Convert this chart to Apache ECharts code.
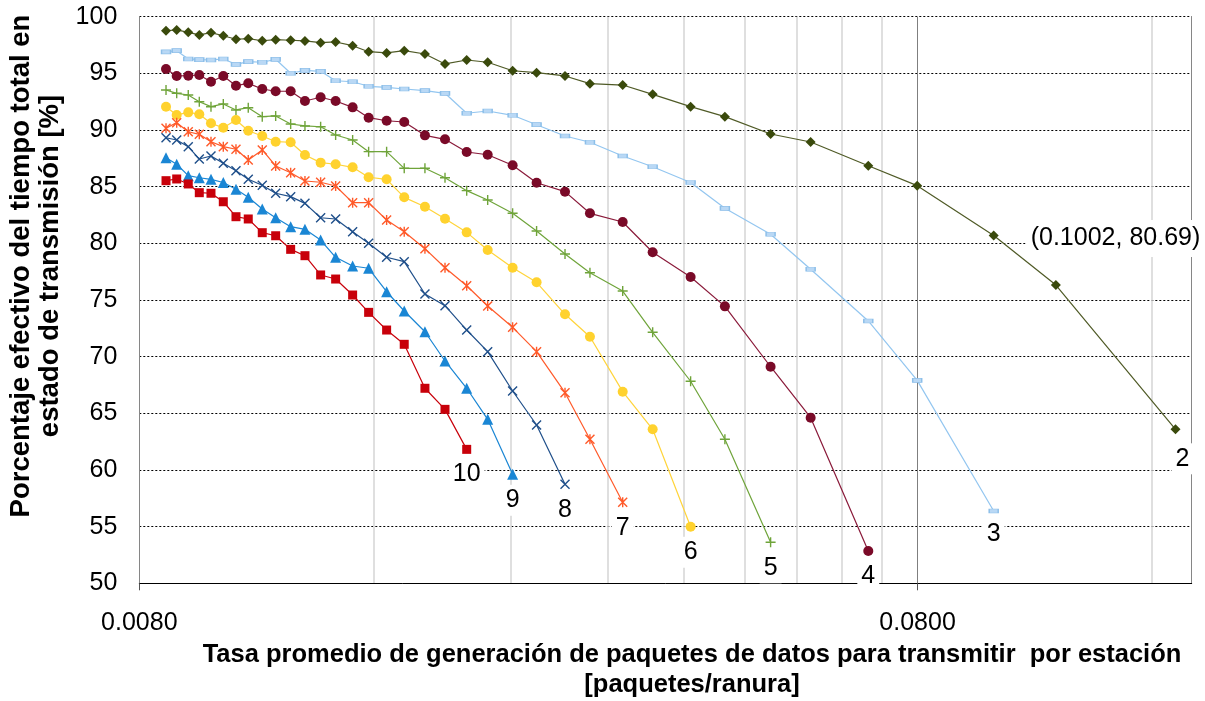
<!DOCTYPE html>
<html><head><meta charset="utf-8">
<script src="https://cdn.jsdelivr.net/npm/echarts@6/dist/echarts.min.js"></script>
<style>html,body{margin:0;padding:0;background:#fff}#c{width:1205px;height:701px}</style>
</head><body><div id="c"></div>
<script>
// Shared x values (packets/slot)
const rates = [0.008658, 0.008936, 0.009247, 0.009554, 0.009890, 0.010257, 0.010649, 0.011043, 0.011510, 0.011976,
  0.012519, 0.013060, 0.013680, 0.014301, 0.015038, 0.015767, 0.016629, 0.017518, 0.018625, 0.019764,
  0.021074, 0.022424, 0.024141, 0.025915, 0.028188, 0.030346, 0.033434, 0.036534, 0.040874, 0.045237,
  0.051787, 0.058302, 0.069140, 0.079906, 0.1002, 0.12044, 0.17159];

const s2 = [98.76, 98.83, 98.62, 98.39, 98.59, 98.32, 98.01, 98.06, 97.88, 97.97,
  97.92, 97.86, 97.71, 97.77, 97.44, 96.91, 96.80, 97.00, 96.71, 95.83,
  96.18, 95.98, 95.23, 95.06, 94.77, 94.09, 93.97, 93.15, 92.06, 91.18,
  89.65, 88.94, 86.85, 85.09, 80.69, 76.32, 63.59];
const s3 = [96.89, 97.00, 96.27, 96.21, 96.18, 96.27, 95.80, 96.03, 95.98, 96.24,
  95.01, 95.27, 95.18, 94.35, 94.26, 93.86, 93.77, 93.62, 93.47, 93.24,
  91.48, 91.68, 91.30, 90.47, 89.47, 88.92, 87.71, 86.76, 85.37, 83.09,
  80.80, 77.71, 73.15, 67.91, 56.38];
const s4 = [95.38, 94.77, 94.79, 94.86, 94.26, 94.77, 93.91, 94.12, 93.62, 93.42,
  93.42, 92.56, 92.89, 92.56, 92.00, 91.09, 90.82, 90.71, 89.53, 89.18,
  88.06, 87.82, 86.89, 85.35, 84.56, 82.65, 81.88, 79.21, 77.03, 74.44,
  69.11, 64.61, 52.85];
const s5 = [93.53, 93.24, 93.09, 92.50, 92.06, 92.30, 91.77, 91.97, 91.18, 91.24,
  90.53, 90.36, 90.29, 89.56, 89.12, 88.09, 88.09, 86.62, 86.62, 85.79,
  84.65, 83.82, 82.65, 81.09, 79.06, 77.41, 75.79, 72.15, 67.83, 62.71,
  53.62];
const s6 = [92.06, 91.33, 91.56, 91.39, 90.59, 90.20, 90.88, 89.94, 89.47, 88.97,
  88.92, 87.80, 87.12, 86.98, 86.71, 85.83, 85.65, 84.06, 83.23, 82.17,
  80.97, 79.41, 77.85, 76.56, 73.74, 71.76, 66.91, 63.59, 54.99];
const s7 = [90.15, 90.65, 89.85, 89.62, 88.97, 88.53, 88.30, 87.35, 88.24, 86.83,
  86.23, 85.50, 85.39, 85.06, 83.59, 83.59, 82.06, 81.03, 79.53, 77.85,
  76.26, 74.47, 72.59, 70.44, 66.82, 62.71, 57.15];
const s8 = [89.32, 89.12, 88.53, 87.44, 87.71, 87.06, 86.41, 85.65, 85.12, 84.42,
  84.12, 83.53, 82.26, 82.15, 81.03, 80.00, 78.77, 78.38, 75.53, 74.50,
  72.35, 70.44, 66.97, 63.97, 58.74];
const s9 = [87.56, 86.98, 85.97, 85.79, 85.65, 85.37, 84.77, 84.06, 83.03, 82.26,
  81.47, 81.24, 80.29, 78.77, 78.00, 77.80, 75.73, 74.03, 72.20, 69.62,
  67.21, 64.47, 59.62];
const s10 = [85.53, 85.68, 85.24, 84.47, 84.42, 83.67, 82.35, 82.15, 80.94, 80.67,
  79.47, 78.91, 77.21, 76.85, 75.44, 73.91, 72.35, 71.09, 67.21, 65.35,
  61.82];

const seriesNames = ['2', '3', '4', '5', '6', '7', '8', '9', '10'];
const seriesValues = [s2, s3, s4, s5, s6, s7, s8, s9, s10];
const annotatedIndex = 34; // point of series "2" that carries a coordinate label

const xMin = 0.008, xMax = 0.18;
const xMajorTicks = [0.008, 0.08];
const xMinorTicks = [0.016, 0.024, 0.032, 0.040, 0.048, 0.056, 0.064, 0.072, 0.16];
const yMin = 50, yMax = 100, yStep = 5;

const xTitle = 'Tasa promedio de generación de paquetes de datos para transmitir  por estación\n[paquetes/ranura]';
const yTitle = 'Porcentaje efectivo del tiempo total en\nestado de transmisión [%]';

const FONT = "'Liberation Sans', Arial, sans-serif";
const PLUS = 'path://M0,4.3H10V5.7H0Z M4.3,0H5.7V10H4.3Z';
const CROSS = 'path://M0,1L1,0L10,9L9,10Z M9,0L10,1L1,10L0,9Z';
const STAR = 'path://M0,1L1,0L10,9L9,10Z M9,0L10,1L1,10L0,9Z M4.3,0H5.7V10H4.3Z';

const styles = [
  {line: '#4f5a26', color: '#3a4a0c', symbol: 'diamond', size: 10},
  {line: '#93c6f0', color: '#b9d8f5', border: '#8dbfe9', symbol: 'rect', size: [9, 4]},
  {line: '#8a1a3a', color: '#7a0a28', symbol: 'circle', size: 10},
  {line: '#6fa43a', color: '#6fa43a', symbol: PLUS, size: 10},
  {line: '#ffd43a', color: '#ffd22e', symbol: 'circle', size: 10},
  {line: '#ff5a2a', color: '#ff5a2a', symbol: STAR, size: 10},
  {line: '#1f4f8a', color: '#1f4f8a', symbol: CROSS, size: 10},
  {line: '#1a86d4', color: '#1a86d4', symbol: 'triangle', size: 11},
  {line: '#c8000a', color: '#c8000a', symbol: 'rect', size: 9}
];

const labelBase = {
  show: true, color: '#000', fontSize: 25, fontFamily: FONT,
  backgroundColor: '#fff', padding: [3, 4]
};

const series = seriesValues.map((vals, i) => {
  const st = styles[i];
  const data = vals.map((v, j) => {
    const item = {value: [rates[j], v]};
    if (j === vals.length - 1) {
      item.label = Object.assign({}, labelBase, {
        position: 'bottom', distance: 5,
        formatter: seriesNames[i],
        offset: i === 0 ? [7, 4] : [0, 0]
      });
    }
    if (i === 0 && j === annotatedIndex) {
      item.label = Object.assign({}, labelBase, {
        position: 'right', distance: 27, padding: [6, 5],
        offset: [0, 3],
        formatter: p => '(' + p.value[0] + ', ' + p.value[1] + ')'
      });
    }
    return item;
  });
  return {
    name: seriesNames[i],
    type: 'line',
    data: data,
    symbol: st.symbol,
    symbolSize: st.size,
    showSymbol: true,
    lineStyle: {color: st.line, width: 1.2},
    itemStyle: {color: st.color, borderColor: st.border || st.color, borderWidth: st.border ? 1 : 0},
    label: {show: false},
    emphasis: {disabled: true},
    z: 3 + i
  };
});

const chart = echarts.init(document.getElementById('c'), null, {renderer: 'canvas'});
chart.setOption({
  backgroundColor: '#fff',
  animation: false,
  textStyle: {fontFamily: FONT},
  grid: {left: 139.3, right: 13.3, top: 16.7, bottom: 117.7, containLabel: false, outerBoundsMode: 'none'},
  xAxis: [{
    type: 'log', logBase: 10, min: xMin, max: xMax,
    axisLine: {show: true, onZero: false, lineStyle: {color: '#000', width: 1}},
    axisTick: {show: false, customValues: xMinorTicks},
    axisLabel: {show: false},
    splitLine: {show: true, lineStyle: {color: '#d4d4d4', width: 1.5}},
    name: xTitle, nameLocation: 'middle', nameGap: 57,
    nameTextStyle: {fontSize: 25.5, fontWeight: 'bold', color: '#000', lineHeight: 30, fontFamily: FONT, padding: [0, 0, 0, 53]}
  }, {
    type: 'log', logBase: 10, min: xMin, max: xMax, position: 'bottom',
    axisLine: {show: false, onZero: false},
    axisTick: {show: true, customValues: xMajorTicks, length: 7, lineStyle: {color: '#555'}},
    axisLabel: {show: true, customValues: xMajorTicks, formatter: v => Number(v).toFixed(4), fontSize: 25, color: '#000', margin: 27, fontFamily: FONT},
    splitLine: {show: true, lineStyle: {color: '#7f7f7f', width: 1}}
  }],
  yAxis: [{
    type: 'value', min: yMin, max: yMax, interval: yStep,
    axisLine: {show: true, lineStyle: {color: '#868686'}},
    axisTick: {show: false},
    axisLabel: {fontSize: 25, color: '#000', margin: 22, fontFamily: FONT},
    splitLine: {show: true, lineStyle: {color: '#000', type: [2, 2], width: 1}},
    name: yTitle, nameLocation: 'middle', nameGap: 74,
    nameTextStyle: {fontSize: 27.5, fontWeight: 'bold', color: '#000', lineHeight: 29, fontFamily: FONT, padding: [0, 0, 0, 68]}
  }, {
    type: 'value', min: yMin, max: yMax, interval: yStep, position: 'right',
    axisLine: {show: true, lineStyle: {color: '#868686'}},
    axisTick: {show: false}, axisLabel: {show: false}, splitLine: {show: false}
  }],
  series: series
});
</script>
</body></html>
